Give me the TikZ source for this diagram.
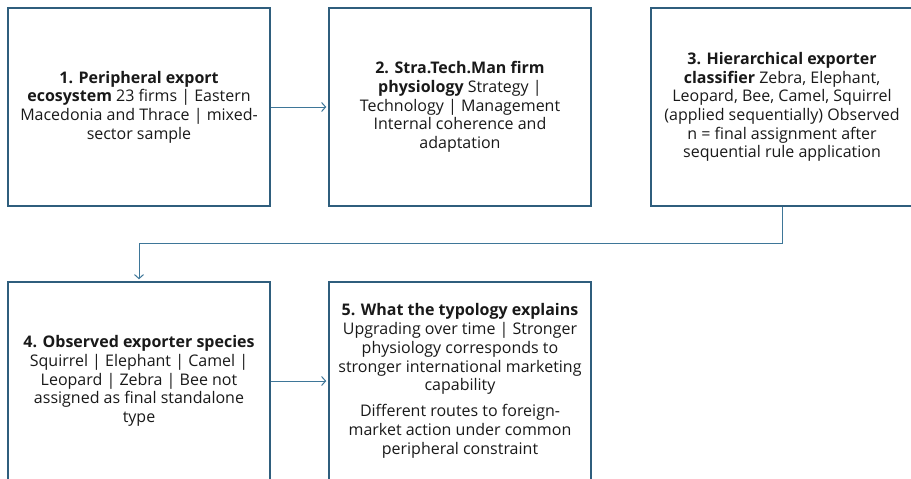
\documentclass[tikz,border=0pt]{standalone}
\usepackage{fontspec}
\setmainfont{Open Sans}
\usetikzlibrary{arrows.meta}
\definecolor{boxline}{RGB}{47,94,125}
\definecolor{linkcol}{RGB}{62,118,152}
\definecolor{inkcol}{RGB}{25,25,25}
\begin{document}
\begin{tikzpicture}[x=1pt,y=-1pt,
  stage/.style={draw=boxline, line width=1.5pt, minimum width=262pt, minimum height=198pt,
    align=center, inner sep=0pt, text=inkcol, font=\fontsize{16}{18.7}\selectfont},
  link/.style={draw=linkcol, line width=1pt, shorten >=2pt,
    -{Straight Barb[length=4pt,width=9pt,line width=1pt]}}]
\useasboundingbox (0,0) rectangle (911,479);
\clip (0,0) rectangle (911,479);

% stage boxes
\node[stage] (s1) at (139,107) {\textbf{1. Peripheral export}\\ \textbf{ecosystem} 23 firms | Eastern\\ Macedonia and Thrace | mixed-\\ sector sample};
\node[stage] (s2) at (460,107) {\textbf{2. Stra.Tech.Man firm}\\ \textbf{physiology} Strategy |\\ Technology | Management\\ Internal coherence and\\ adaptation};
\node[stage] (s3) at (782,107) {\textbf{3. Hierarchical exporter}\\ \textbf{classifier} Zebra, Elephant,\\ Leopard, Bee, Camel, Squirrel\\ (applied sequentially) Observed\\ n = final assignment after\\ sequential rule application};
\node[stage] (s4) at (139,381) {\textbf{4. Observed exporter species}\\ Squirrel | Elephant | Camel |\\ Leopard | Zebra | Bee not\\ assigned as final standalone\\ type};
\node[stage] (s5) at (460,381) {\textbf{5. What the typology explains}\\ Upgrading over time | Stronger\\ physiology corresponds to\\ stronger international marketing\\ capability\\[7.5pt] Different routes to foreign-\\ market action under common\\ peripheral constraint};

% connectors
\coordinate (bend) at (782,243);
\draw[link] (s1.east) -- (s2.west);
\draw[link] (s3.south) -- (bend) -| (s4.north);
\draw[link] (s4.east) -- (s5.west);
\end{tikzpicture}
\end{document}
